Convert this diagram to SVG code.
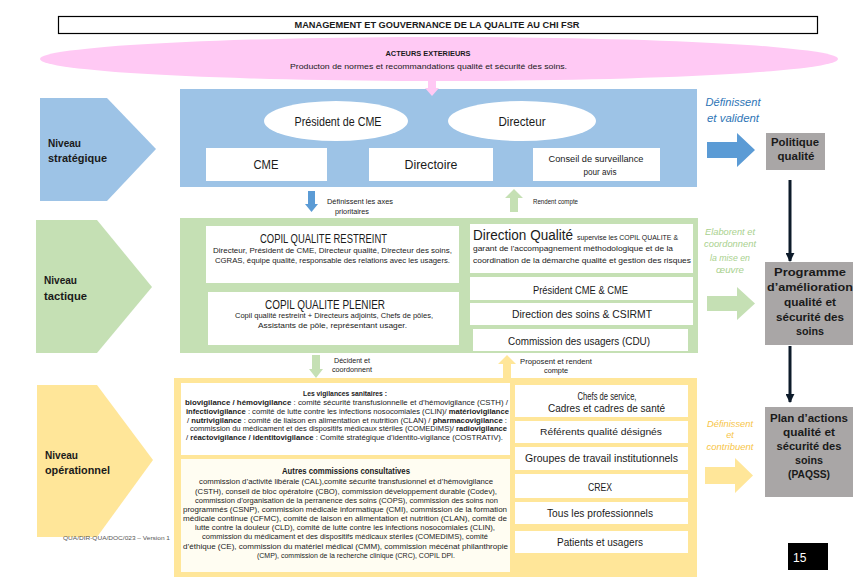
<svg xmlns="http://www.w3.org/2000/svg" width="857" height="579" viewBox="0 0 857 579">
<defs>
<style>
.t{font-family:"Liberation Sans",Arial,sans-serif;fill:#1a1a1a}
.b{font-weight:bold}
.c{text-anchor:middle}
.i{font-style:italic}
</style>
<marker id="ah" viewBox="0 0 10 10" refX="9" refY="5" markerWidth="3" markerHeight="3" orient="auto"><path d="M0,0 L10,5 L0,10 Z" fill="#0d1b2a"/></marker>
</defs>
<rect width="857" height="579" fill="#ffffff"/>

<g id="title">
<rect x="58.5" y="16.5" width="759" height="17" fill="#fff" stroke="#000" stroke-width="1.2"/>
<text class="t b c" x="437" y="28.2" font-size="8.6" textLength="285" lengthAdjust="spacingAndGlyphs">MANAGEMENT ET GOUVERNANCE DE LA QUALITE AU CHI FSR</text>
</g>

<g id="acteurs">
<ellipse cx="439" cy="59" rx="399" ry="22" fill="#FFC9F4"/>
<text class="t b c" x="428" y="55.7" font-size="7.5" textLength="85" lengthAdjust="spacingAndGlyphs">ACTEURS EXTERIEURS</text>
<text class="t c" x="428.5" y="68.8" font-size="8" textLength="277" lengthAdjust="spacingAndGlyphs">Producton de normes et recommandations qualité et sécurité des soins.</text>
</g>

<g id="niveau-strategique">
<path d="M40,98 H107 L156,149 L107,201 H40 Z" fill="#9DC3E6"/>
<text class="t b" x="48" y="146.5" font-size="10.5" textLength="33" lengthAdjust="spacingAndGlyphs">Niveau</text>
<text class="t b" x="48" y="162" font-size="10.5" textLength="59" lengthAdjust="spacingAndGlyphs">stratégique</text>
</g>
<g id="niveau-tactique">
<path d="M36,220 H97 L152,287 L97,353 H36 Z" fill="#C5E0B4"/>
<text class="t b" x="44" y="283.5" font-size="10.5" textLength="33" lengthAdjust="spacingAndGlyphs">Niveau</text>
<text class="t b" x="44" y="299.5" font-size="10.5" textLength="43" lengthAdjust="spacingAndGlyphs">tactique</text>
</g>
<g id="niveau-operationnel">
<path d="M37,385 H97 L153,460 L97,537 H37 Z" fill="#FFE699"/>
<text class="t b" x="45" y="458.5" font-size="10.5" textLength="33" lengthAdjust="spacingAndGlyphs">Niveau</text>
<text class="t b" x="45" y="474" font-size="10.5" textLength="65" lengthAdjust="spacingAndGlyphs">opérationnel</text>
</g>
<text class="t" x="63" y="540" font-size="6" style="fill:#555" textLength="107" lengthAdjust="spacingAndGlyphs">QUA/DIR-QUA/DOC/023 – Version 1</text>

<g id="bande-strategique">
<rect x="180" y="89" width="517" height="98" fill="#9DC3E6"/>
</g>
<g id="president-cme">
<ellipse cx="336" cy="121" rx="72" ry="20" fill="#fff"/>
<text class="t c" x="338" y="125.5" font-size="12.5" textLength="87" lengthAdjust="spacingAndGlyphs">Président de CME</text>
</g>
<g id="directeur">
<ellipse cx="522" cy="121" rx="74" ry="20" fill="#fff"/>
<text class="t c" x="522" y="125.5" font-size="12.5" textLength="47" lengthAdjust="spacingAndGlyphs">Directeur</text>
</g>
<g id="cme">
<rect x="206" y="148" width="121" height="33" fill="#fff"/>
<text class="t c" x="266" y="168.5" font-size="12.5" textLength="25" lengthAdjust="spacingAndGlyphs">CME</text>
</g>
<g id="directoire">
<rect x="369" y="148" width="124" height="33" fill="#fff"/>
<text class="t c" x="431" y="168.5" font-size="12.5" textLength="53" lengthAdjust="spacingAndGlyphs">Directoire</text>
</g>
<g id="conseil">
<rect x="533" y="148" width="127" height="33" fill="#fff"/>
<text class="t c" x="596" y="161.5" font-size="9.2" textLength="95" lengthAdjust="spacingAndGlyphs">Conseil de surveillance</text>
<text class="t c" x="600" y="174.5" font-size="8.5" textLength="33" lengthAdjust="spacingAndGlyphs">pour avis</text>
</g>

<g id="bande-tactique">
<rect x="180" y="218" width="518" height="135" fill="#C5E0B4"/>
</g>
<g id="copil-restreint">
<rect x="206" y="226" width="253" height="57" fill="#fff"/>
<text class="t c" x="323.5" y="243" font-size="13.5" textLength="127" lengthAdjust="spacingAndGlyphs">COPIL QUALITE RESTREINT</text>
<text class="t c" x="332.5" y="253" font-size="7.8" textLength="239" lengthAdjust="spacingAndGlyphs">Directeur, Président de CME, Directeur qualité, Directeur des soins,</text>
<text class="t c" x="332.5" y="263" font-size="7.8" textLength="235" lengthAdjust="spacingAndGlyphs">CGRAS, équipe qualité, responsable des relations avec les usagers.</text>
</g>
<g id="copil-plenier">
<rect x="208" y="292" width="251" height="53" fill="#fff"/>
<text class="t c" x="325" y="308.5" font-size="13.5" textLength="120" lengthAdjust="spacingAndGlyphs">COPIL QUALITE PLENIER</text>
<text class="t c" x="334" y="318" font-size="7.8" textLength="198" lengthAdjust="spacingAndGlyphs">Copil qualité restreint + Directeurs adjoints, Chefs de pôles,</text>
<text class="t c" x="332.5" y="328" font-size="7.8" textLength="149" lengthAdjust="spacingAndGlyphs">Assistants de pôle, représentant usager.</text>
</g>
<g id="direction-qualite">
<rect x="470" y="224" width="223" height="49" fill="#fff"/>
<text class="t" x="473" y="240" font-size="14" textLength="100" lengthAdjust="spacingAndGlyphs">Direction Qualité</text>
<text class="t" x="577" y="239.5" font-size="7.5" textLength="101" lengthAdjust="spacingAndGlyphs">supervise les COPIL QUALITE &amp;</text>
<text class="t" x="473" y="251" font-size="7.5" textLength="200" lengthAdjust="spacingAndGlyphs">garant de l'accompagnement méthodologique et de la</text>
<text class="t" x="473" y="262.5" font-size="7.5" textLength="218" lengthAdjust="spacingAndGlyphs">coordination de la démarche qualité et gestion des risques</text>
</g>
<g id="president-cme-cme">
<rect x="470" y="277" width="223" height="23" fill="#fff"/>
<text class="t c" x="580.5" y="294" font-size="11" textLength="95" lengthAdjust="spacingAndGlyphs">Président CME &amp; CME</text>
</g>
<g id="direction-soins">
<rect x="470" y="303" width="223" height="22" fill="#fff"/>
<text class="t c" x="582" y="318" font-size="11" textLength="140" lengthAdjust="spacingAndGlyphs">Direction des soins &amp; CSIRMT</text>
</g>
<g id="cdu">
<rect x="473" y="329" width="215" height="22" fill="#fff"/>
<text class="t c" x="579" y="345" font-size="11" textLength="142" lengthAdjust="spacingAndGlyphs">Commission des usagers (CDU)</text>
</g>

<g id="bande-operationnelle">
<rect x="174" y="378" width="523" height="199" fill="#FFE699"/>
</g>
<g id="vigilances">
<rect x="181" y="383" width="329" height="72" fill="#fff"/>
<text class="t b c" x="345" y="395.7" font-size="7.6" textLength="84" lengthAdjust="spacingAndGlyphs">Les vigilances sanitaires :</text>
<text class="t c" x="346.5" y="404.7" font-size="7.2" textLength="323" lengthAdjust="spacingAndGlyphs"><tspan class="b">biovigilance / hémovigilance</tspan> : comité sécurité transfusionnelle et d’hémovigilance (CSTH) /</text>
<text class="t c" x="347.5" y="413.7" font-size="7.2" textLength="323" lengthAdjust="spacingAndGlyphs"><tspan class="b">infectiovigilance</tspan> : comité de lutte contre les infections nosocomiales (CLIN)/ <tspan class="b">matériovigilance</tspan></text>
<text class="t c" x="347" y="422.7" font-size="7.2" textLength="320" lengthAdjust="spacingAndGlyphs">/ <tspan class="b">nutrivigilance</tspan> : comité de liaison en alimentation et nutrition (CLAN) / <tspan class="b">pharmacovigilance</tspan> :</text>
<text class="t c" x="348.5" y="430.7" font-size="6.5" textLength="317" lengthAdjust="spacingAndGlyphs">commission du médicament et des dispositifs médicaux stériles (COMEDIMS)/ <tspan class="b">radiovigilance</tspan></text>
<text class="t c" x="344.5" y="439.7" font-size="7.2" textLength="317" lengthAdjust="spacingAndGlyphs">/ <tspan class="b">réactovigilance / identitovigilance</tspan> : Comité stratégique d’identito-vigilance (COSTRATIV).</text>
</g>
<g id="autres-commissions">
<rect x="181" y="459" width="329" height="113" fill="#FFFDF2"/>
<text class="t b c" x="346" y="473.8" font-size="8.2" textLength="128" lengthAdjust="spacingAndGlyphs">Autres commissions consultatives</text>
<text class="t c" x="346" y="484.2" font-size="7.4" textLength="294" lengthAdjust="spacingAndGlyphs">commission d’activité libérale (CAL),comité sécurité transfusionnel et d’hémovigilance</text>
<text class="t c" x="346" y="493.7" font-size="7.4" textLength="302" lengthAdjust="spacingAndGlyphs">(CSTH), conseil de bloc opératoire (CBO), commission développement durable (Codev),</text>
<text class="t c" x="346.5" y="502.7" font-size="7.4" textLength="303" lengthAdjust="spacingAndGlyphs">commission d’organisation de la perranence des soins (COPS), commission des soins non</text>
<text class="t c" x="345" y="512.2" font-size="7.4" textLength="324" lengthAdjust="spacingAndGlyphs">programmés (CSNP), commission médicale informatique (CMI), commission de la formation</text>
<text class="t c" x="345" y="521.2" font-size="7.4" textLength="324" lengthAdjust="spacingAndGlyphs">médicale continue (CFMC), comité de laison en alimentation et nutrition (CLAN), comité de</text>
<text class="t c" x="345" y="530.2" font-size="7.4" textLength="300" lengthAdjust="spacingAndGlyphs">lutte contre la douleur (CLD), comité de lutte contre les infections nosocomiales (CLIN),</text>
<text class="t c" x="345" y="539.2" font-size="7.4" textLength="286" lengthAdjust="spacingAndGlyphs">commission du médicament et des dispositifs médicaux stériles (COMEDIMS), comité</text>
<text class="t c" x="345.5" y="548.7" font-size="7.4" textLength="325" lengthAdjust="spacingAndGlyphs">d’éthique (CE), commission du matériel médical (CMM), commission mécénat philanthropie</text>
<text class="t c" x="356" y="557.7" font-size="7.4" textLength="198" lengthAdjust="spacingAndGlyphs">(CMP), commission de la recherche clinique (CRC), COPIL DPI.</text>
</g>
<g id="chefs-service">
<rect x="515" y="385" width="173" height="32" fill="#fff"/>
<text class="t c" x="607" y="399.8" font-size="10.5" textLength="59" lengthAdjust="spacingAndGlyphs">Chefs de service,</text>
<text class="t c" x="606.5" y="411.8" font-size="10.5" textLength="117" lengthAdjust="spacingAndGlyphs">Cadres et cadres de santé</text>
</g>
<g id="referents">
<rect x="515" y="421" width="173" height="22" fill="#fff"/>
<text class="t c" x="601" y="435.3" font-size="9.5" textLength="122" lengthAdjust="spacingAndGlyphs">Référents qualité désignés</text>
</g>
<g id="groupes">
<rect x="515" y="447" width="173" height="23" fill="#fff"/>
<text class="t c" x="601.5" y="461.8" font-size="10.5" textLength="153" lengthAdjust="spacingAndGlyphs">Groupes de travail institutionnels</text>
</g>
<g id="crex">
<rect x="515" y="474" width="173" height="24" fill="#fff"/>
<text class="t c" x="600" y="490.8" font-size="10.5" textLength="24" lengthAdjust="spacingAndGlyphs">CREX</text>
</g>
<g id="professionnels">
<rect x="515" y="502" width="173" height="22" fill="#fff"/>
<text class="t c" x="600" y="516.8" font-size="10.5" textLength="106" lengthAdjust="spacingAndGlyphs">Tous les professionnels</text>
</g>
<g id="patients">
<rect x="515" y="531" width="173" height="22" fill="#fff"/>
<text class="t c" x="600" y="545.8" font-size="10.5" textLength="86" lengthAdjust="spacingAndGlyphs">Patients et usagers</text>
</g>

<g id="politique-qualite">
<rect x="766" y="133" width="59" height="37" fill="#A9A6A6"/>
<text class="t b c" x="795" y="146" font-size="11" textLength="48" lengthAdjust="spacingAndGlyphs">Politique</text>
<text class="t b c" x="796" y="160" font-size="11" textLength="37" lengthAdjust="spacingAndGlyphs">qualité</text>
</g>
<g id="programme">
<rect x="765" y="262" width="88" height="83" fill="#A9A6A6"/>
<text class="t b c" x="810" y="276" font-size="11.5" textLength="72" lengthAdjust="spacingAndGlyphs">Programme</text>
<text class="t b c" x="810" y="291" font-size="11.5" textLength="86" lengthAdjust="spacingAndGlyphs">d’amélioration</text>
<text class="t b c" x="810" y="306" font-size="11.5" textLength="52" lengthAdjust="spacingAndGlyphs">qualité et</text>
<text class="t b c" x="810" y="320.5" font-size="11.5" textLength="68" lengthAdjust="spacingAndGlyphs">sécurité des</text>
<text class="t b c" x="810" y="335" font-size="11.5" textLength="28" lengthAdjust="spacingAndGlyphs">soins</text>
</g>
<g id="paqss">
<rect x="765" y="407" width="88" height="90" fill="#A9A6A6"/>
<text class="t b c" x="809" y="421.5" font-size="11.5" textLength="78" lengthAdjust="spacingAndGlyphs">Plan d’actions</text>
<text class="t b c" x="809" y="436" font-size="11.5" textLength="52" lengthAdjust="spacingAndGlyphs">qualité et</text>
<text class="t b c" x="809" y="449.5" font-size="11.5" textLength="65" lengthAdjust="spacingAndGlyphs">sécurité des</text>
<text class="t b c" x="809" y="464" font-size="11.5" textLength="28" lengthAdjust="spacingAndGlyphs">soins</text>
<text class="t b c" x="809" y="477.5" font-size="11.5" textLength="42" lengthAdjust="spacingAndGlyphs">(PAQSS)</text>
</g>
<g id="page">
<rect x="788" y="543" width="40" height="27" fill="#000"/>
<text class="t" x="793" y="561.5" font-size="12" style="fill:#fff">15</text>
</g>

<g id="connectors">
<path d="M428,81 H436 V88 H439 L432,96 L425,88 H428 Z" fill="#FFC9F4"/>
<path d="M308,191 H315 V204 H318 L311.5,212 L305,204 H308 Z" fill="#5B9BD5"/>
<path d="M510,212 H518 V198 H523 L514,189 L505,198 H510 Z" fill="#C5E0B4"/>
<path d="M312,355 H320 V369 H323 L316,378 L309,369 H312 Z" fill="#C5E0B4"/>
<path d="M503,378 H511 V364 H516 L507,355 L498,364 H503 Z" fill="#FFE699"/>
<path d="M707,142 H737 V133 L755,150 L737,167 V158 H707 Z" fill="#5B9BD5"/>
<path d="M707,296 H737 V287 L755,303.5 L737,320 V311 H707 Z" fill="#C5E0B4"/>
<path d="M705,467 H735 V458 L753,475.5 L735,493 V484 H705 Z" fill="#FFE699"/>
<line x1="790" y1="180" x2="790" y2="261" stroke="#0d1b2a" stroke-width="3" marker-end="url(#ah)"/>
<line x1="790" y1="346" x2="790" y2="402" stroke="#0d1b2a" stroke-width="3" marker-end="url(#ah)"/>
<text class="t c" x="360" y="204.3" font-size="7" textLength="66" lengthAdjust="spacingAndGlyphs">Définissent les axes</text>
<text class="t c" x="352" y="214.3" font-size="7" textLength="34" lengthAdjust="spacingAndGlyphs">prioritaires</text>
<text class="t" x="533" y="204.3" font-size="7" textLength="45" lengthAdjust="spacingAndGlyphs">Rendent compte</text>
<text class="t c" x="352" y="362.8" font-size="7" textLength="36" lengthAdjust="spacingAndGlyphs">Décident et</text>
<text class="t c" x="352" y="372.3" font-size="7" textLength="40" lengthAdjust="spacingAndGlyphs">coordonnent</text>
<text class="t c" x="556" y="363.8" font-size="7" textLength="72" lengthAdjust="spacingAndGlyphs">Proposent et rendent</text>
<text class="t c" x="556" y="373.3" font-size="7" textLength="24" lengthAdjust="spacingAndGlyphs">compte</text>
<text class="t i c" x="733" y="106" font-size="11" style="fill:#2E75B6" textLength="55" lengthAdjust="spacingAndGlyphs">Définissent</text>
<text class="t i c" x="733" y="122" font-size="11" style="fill:#2E75B6" textLength="52" lengthAdjust="spacingAndGlyphs">et valident</text>
<text class="t i c" x="730" y="235.3" font-size="9.2" style="fill:#A9D18E" textLength="50" lengthAdjust="spacingAndGlyphs">Elaborent et</text>
<text class="t i c" x="730" y="247.3" font-size="9.2" style="fill:#A9D18E" textLength="52" lengthAdjust="spacingAndGlyphs">coordonnent</text>
<text class="t i c" x="730" y="261.3" font-size="9.2" style="fill:#A9D18E" textLength="40" lengthAdjust="spacingAndGlyphs">la mise en</text>
<text class="t i c" x="730" y="273.3" font-size="9.2" style="fill:#A9D18E" textLength="28" lengthAdjust="spacingAndGlyphs">œuvre</text>
<text class="t i c" x="730" y="426.8" font-size="9.2" style="fill:#F7C548" textLength="46" lengthAdjust="spacingAndGlyphs">Définissent</text>
<text class="t i c" x="730" y="438.3" font-size="9.2" style="fill:#F7C548">et</text>
<text class="t i c" x="730" y="449.8" font-size="9.2" style="fill:#F7C548" textLength="47" lengthAdjust="spacingAndGlyphs">contribuent</text>
</g>
</svg>
